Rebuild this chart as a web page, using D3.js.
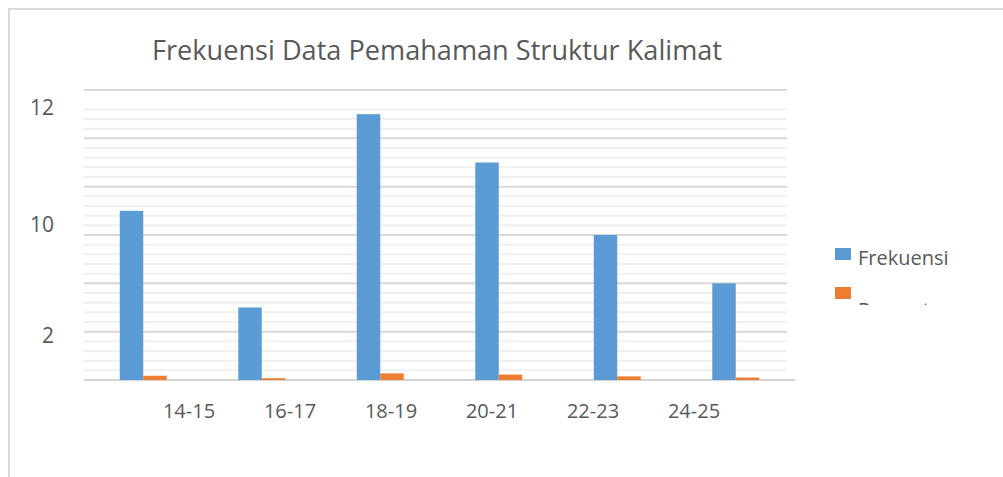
<!DOCTYPE html>
<html>
<head>
<meta charset="utf-8">
<script src="https://cdn.jsdelivr.net/npm/d3@7"></script>
<style>
  html, body { margin: 0; padding: 0; background: #fff; }
  svg { display: block; }
</style>
</head>
<body>
<svg id="chart"></svg>
<script>
// data
const categories = ["14-15", "16-17", "18-19", "20-21", "22-23", "24-25"];
const series = ["Frekuensi", "Persentase"];
const frekuensi = [7, 3, 11, 9, 6, 4];
const persentase = [0.175, 0.075, 0.275, 0.225, 0.15, 0.1];
// the axis labels in the source sit at odd places, kept as they appear
const yTickLabels = ["12", "10", "2"];
const yTickValues = [11.25, 6.41, 1.84];

const width = 1003, height = 477;
const colors = ["#5b9bd5", "#ed7d31"];
const textColor = "#595959";
const font = "'Open Sans', sans-serif";

const svg = d3.select("#chart")
	.attr("width", width)
	.attr("height", height)
	.attr("font-family", font);

// outer frame (only top and left edges show)
svg.append("path")
	.attr("d", "M8,9H" + width + "M9,9V" + height)
	.attr("fill", "none")
	.attr("stroke", "#d9d9d9")
	.attr("stroke-width", 2);

const plot = { left: 84, right: 795, top: 90, bottom: 380 };

const x = d3.scaleBand()
	.domain(categories)
	.range([plot.left, plot.right]);

const y = d3.scaleLinear()
	.domain([0, 12])
	.range([plot.bottom, plot.top]);

// gridlines
const grid = svg.append("g");
const minor = d3.range(0, 12, 0.4)
	.map((v) => Math.round(v * 10) / 10)
	.filter((v) => v % 2 !== 0 && v !== 11.6);
grid.selectAll("line.minor")
	.data(minor)
	.join("line")
	.attr("class", "minor")
	.attr("x1", plot.left)
	.attr("x2", 787)
	.attr("y1", (d) => y(d))
	.attr("y2", (d) => y(d))
	.attr("stroke", "#f0f0f0")
	.attr("stroke-width", 2);
grid.selectAll("line.major")
	.data(d3.range(2, 13, 2))
	.join("line")
	.attr("class", "major")
	.attr("x1", plot.left)
	.attr("x2", 787)
	.attr("y1", (d) => y(d))
	.attr("y2", (d) => y(d))
	.attr("stroke", "#d9d9d9")
	.attr("stroke-width", 2);
grid.append("line")
	.attr("x1", plot.left)
	.attr("x2", plot.right)
	.attr("y1", y(0))
	.attr("y2", y(0))
	.attr("stroke", "#d4d4d4")
	.attr("stroke-width", 2);

// bars
const barW = x.bandwidth() * 0.198;
const x1 = d3.scaleBand()
	.domain(series)
	.range([x.bandwidth() / 2 - barW, x.bandwidth() / 2 + barW]);

const values = [frekuensi, persentase];
const groups = svg.append("g")
	.selectAll("g")
	.data(categories)
	.join("g")
	.attr("transform", (d) => `translate(${x(d)},0)`);

groups.selectAll("rect")
	.data((d, i) => series.map((s, k) => ({ s, k, v: values[k][i] })))
	.join("rect")
	.attr("x", (d) => x1(d.s))
	.attr("width", x1.bandwidth())
	.attr("y", (d) => y(d.v))
	.attr("height", (d) => y(0) - y(d.v))
	.attr("fill", (d) => colors[d.k]);

// y labels
svg.append("g")
	.selectAll("text")
	.data(yTickValues)
	.join("text")
	.attr("x", 54)
	.attr("y", (d) => y(d))
	.attr("dy", "0.35em")
	.attr("text-anchor", "end")
	.attr("font-size", 21)
	.attr("fill", textColor)
	.text((d, i) => yTickLabels[i]);

// x labels (spaced tighter than the bars in the source)
const xl = d3.scalePoint()
	.domain(categories)
	.range([189, 694]);
svg.append("g")
	.selectAll("text")
	.data(categories)
	.join("text")
	.attr("x", (d) => xl(d))
	.attr("y", 418)
	.attr("text-anchor", "middle")
	.attr("font-size", 20)
	.attr("fill", textColor)
	.text((d) => d);

// title
svg.append("text")
	.attr("x", 152)
	.attr("y", 60)
	.attr("font-size", 27)
	.attr("fill", textColor)
	.attr("textLength", 570)
	.attr("lengthAdjust", "spacingAndGlyphs")
	.text("Frekuensi Data Pemahaman Struktur Kalimat");

// legend, the second label sits low and is cut off at the bottom
svg.append("clipPath")
	.attr("id", "legendClip")
	.append("rect")
	.attr("x", 820)
	.attr("y", 230)
	.attr("width", 180)
	.attr("height", 75);

const legend = svg.append("g")
	.attr("clip-path", "url(#legendClip)")
	.selectAll("g")
	.data(series)
	.join("g")
	.attr("transform", (d, i) => `translate(835,${248 + i * 39})`);
legend.append("rect")
	.attr("width", 16)
	.attr("height", 12)
	.attr("fill", (d, i) => colors[i]);
legend.append("text")
	.attr("x", 23)
	.attr("y", (d, i) => (i === 0 ? 17 : 30))
	.attr("font-size", 20)
	.attr("fill", textColor)
	.text((d) => d);
</script>
</body>
</html>
